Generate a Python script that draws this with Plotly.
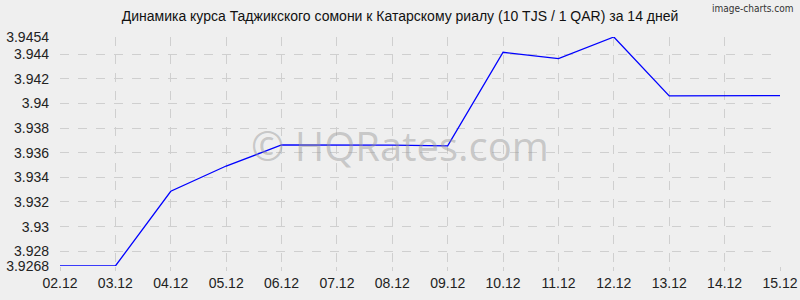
import plotly.graph_objects as go

dates = ["02.12", "03.12", "04.12", "05.12", "06.12", "07.12", "08.12",
         "09.12", "10.12", "11.12", "12.12", "13.12", "14.12", "15.12"]
rates = [3.9268, 3.9268, 3.93287, 3.93492, 3.93663, 3.93663, 3.93662,
         3.93656, 3.94416, 3.94364, 3.9454, 3.94061, 3.94064, 3.94064]
y_ticks = [3.9268, 3.928, 3.93, 3.932, 3.934, 3.936, 3.938, 3.94, 3.942, 3.944, 3.9454]
y_tick_text = ["3.9268", "3.928", "3.93", "3.932", "3.934", "3.936", "3.938",
               "3.94", "3.942", "3.944", "3.9454"]
title = "Динамика курса Таджикского сомони к Катарскому риалу (10 TJS / 1 QAR) за 14 дней"

bg = "#efefef"
fig = go.Figure()
fig.add_trace(go.Scatter(x=dates, y=rates, mode="lines",
                         line=dict(color="#0000ff", width=1.3),
                         hoverinfo="skip"))

fig.update_layout(
    width=800, height=300,
    margin=dict(l=60, r=20, t=37, b=34, autoexpand=False),
    paper_bgcolor=bg, plot_bgcolor=bg,
    showlegend=False,
    font=dict(family="Liberation Sans, Arial, sans-serif", size=14, color="#222"),
    title=dict(text=title, x=0.5, xanchor="center", y=1, yanchor="top",
               pad=dict(t=11),
               font=dict(family="Liberation Sans, Arial, sans-serif", size=14, color="#111")),
)
fig.update_xaxes(type="category", categoryorder="array", categoryarray=dates,
                 range=[0, len(dates) - 1], automargin=False,
                 showgrid=True, gridcolor="#cfcfcf", griddash="dash", gridwidth=1,
                 zeroline=False, showline=False,
                 ticks="outside", ticklen=4, tickcolor="#cfcfcf",
                 tickfont=dict(size=14, color="#222"))
fig.update_yaxes(range=[3.9268, 3.9454], tickvals=y_ticks, ticktext=y_tick_text,
                 automargin=False,
                 showgrid=True, gridcolor="#cfcfcf", griddash="dash", gridwidth=1,
                 zeroline=False, showline=False, ticks="", ticklabelstandoff=10,
                 tickfont=dict(size=14, color="#222"))

fig.add_annotation(text="© HQRates.com", xref="paper", yref="paper",
                   x=0.472, y=0.528, xanchor="center", yanchor="middle",
                   showarrow=False,
                   font=dict(family="Open Sans, sans-serif", size=40,
                             color="rgba(150,150,150,0.45)"))
fig.add_annotation(text="image-charts.com", xref="paper", yref="paper",
                   x=1.0, y=1.0, xanchor="right", yanchor="top",
                   xshift=15, yshift=36, showarrow=False,
                   font=dict(family="DejaVu Sans Condensed, sans-serif", size=10,
                             color="#333"))

fig.write_html("out.html")
